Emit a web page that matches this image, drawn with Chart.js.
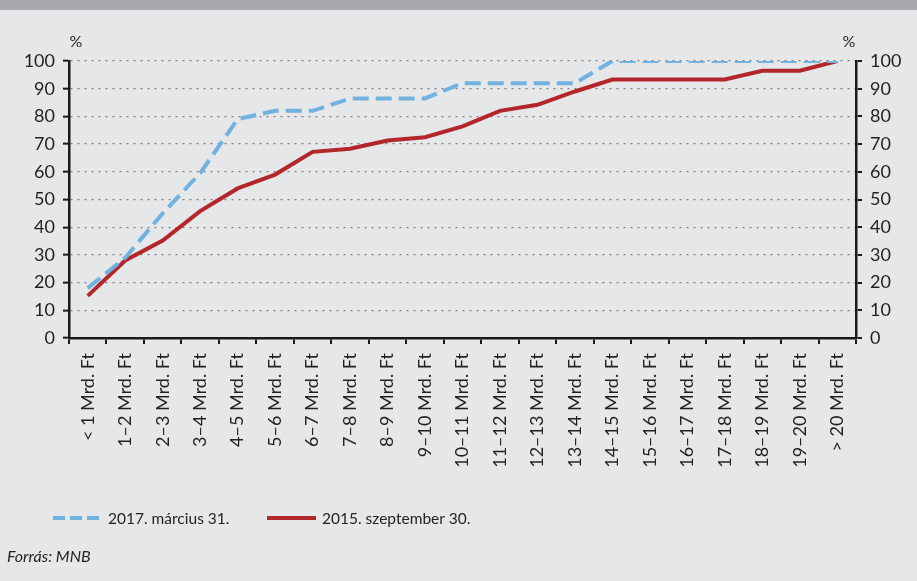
<!DOCTYPE html>
<html>
<head>
<meta charset="utf-8">
<script src="https://cdn.jsdelivr.net/npm/chart.js@4.4.1/dist/chart.umd.min.js"></script>
<style>
  html, body { margin: 0; padding: 0; background: #e6e7e8; }
  #wrap { width: 917px; height: 581px; }
</style>
</head>
<body>
<div id="wrap"><canvas id="chart" width="917" height="581"></canvas></div>
<script>
const categories = [
  '< 1 Mrd. Ft', '1–2 Mrd. Ft', '2–3 Mrd. Ft', '3–4 Mrd. Ft', '4–5 Mrd. Ft',
  '5–6 Mrd. Ft', '6–7 Mrd. Ft', '7–8 Mrd. Ft', '8–9 Mrd. Ft', '9–10 Mrd. Ft',
  '10–11 Mrd. Ft', '11–12 Mrd. Ft', '12–13 Mrd. Ft', '13–14 Mrd. Ft', '14–15 Mrd. Ft',
  '15–16 Mrd. Ft', '16–17 Mrd. Ft', '17–18 Mrd. Ft', '18–19 Mrd. Ft', '19–20 Mrd. Ft',
  '> 20 Mrd. Ft'
];
const series2017 = [18, 29, 45, 59.5, 79, 82, 82, 86.5, 86.5, 86.5, 92, 92, 92, 92, 100, 100, 100, 100, 100, 100, 100];
const series2015 = [15.2, 28, 35.2, 45.8, 54, 59, 67.2, 68.3, 71.3, 72.5, 76.4, 82, 84.2, 89, 93.3, 93.3, 93.3, 93.3, 96.5, 96.5, 100];
const seriesNames = ['2017. március 31.', '2015. szeptember 30.'];
const yTicks = [0, 10, 20, 30, 40, 50, 60, 70, 80, 90, 100];

const FONT = 'Lato, "Open Sans", sans-serif';
const TXT = '#231f20';
const BLUE = '#72b2e0';
const RED = '#b3262a';

// háttér, felső sáv, % jelek, jelmagyarázat, forrás
const extras = {
  id: 'extras',
  beforeDraw(chart) {
    const ctx = chart.ctx;
    ctx.save();
    ctx.fillStyle = '#e6e7e8';
    ctx.fillRect(0, 0, chart.width, chart.height);
    ctx.fillStyle = '#a7a8ab';
    ctx.fillRect(0, 0, chart.width, 10);
    ctx.restore();
  },
  afterDraw(chart) {
    const ctx = chart.ctx;
    const area = chart.chartArea;
    ctx.save();
    ctx.fillStyle = TXT;
    ctx.font = '16px ' + FONT;
    ctx.textBaseline = 'middle';
    ctx.textAlign = 'center';
    ctx.fillText('%', area.left + 7, 42);
    ctx.fillText('%', area.right - 7, 42);

    // legend
    ctx.textAlign = 'left';
    ctx.lineWidth = 4;
    ctx.strokeStyle = BLUE;
    ctx.setLineDash([12, 5]);
    ctx.beginPath();
    ctx.moveTo(53, 518);
    ctx.lineTo(103, 518);
    ctx.stroke();
    ctx.setLineDash([]);
    ctx.strokeStyle = RED;
    ctx.beginPath();
    ctx.moveTo(267, 518);
    ctx.lineTo(316, 518);
    ctx.stroke();
    ctx.font = '15.5px ' + FONT;
    ctx.fillText(seriesNames[0], 108, 519);
    ctx.fillText(seriesNames[1], 322, 519);

    ctx.font = 'italic 16px ' + FONT;
    ctx.fillText('Forrás: MNB', 7, 557);
    ctx.restore();
  }
};

const yCommon = {
  min: 0,
  max: 100,
  afterBuildTicks: (s) => { s.ticks = yTicks.map(v => ({ value: v })); },
  ticks: { color: TXT, font: { family: FONT, size: 18 }, padding: 8 }
};

new Chart(document.getElementById('chart'), {
  type: 'line',
  data: {
    labels: categories,
    datasets: [
      {
        label: seriesNames[0],
        data: series2017,
        borderColor: BLUE,
        borderWidth: 4,
        borderDash: [16, 7],
        pointRadius: 0,
        tension: 0,
        fill: false
      },
      {
        label: seriesNames[1],
        data: series2015,
        borderColor: RED,
        borderWidth: 4,
        pointRadius: 0,
        tension: 0,
        fill: false
      }
    ]
  },
  plugins: [extras],
  options: {
    responsive: false,
    animation: false,
    layout: { padding: { top: 61, left: 0, right: 0, bottom: 0 } },
    plugins: { legend: { display: false }, tooltip: { enabled: false } },
    scales: {
      x: {
        offset: true,
        afterFit: (s) => { s.height = 243; },
        border: { display: true, color: '#1a1a1a', width: 2.5 },
        grid: {
          offset: true,
          drawOnChartArea: false,
          color: '#1a1a1a',
          tickLength: 6,
          lineWidth: 2
        },
        ticks: {
          color: TXT,
          font: { family: FONT, size: 18 },
          minRotation: 90,
          maxRotation: 90,
          autoSkip: false,
          padding: 9
        }
      },
      y: Object.assign({}, yCommon, {
        position: 'left',
        afterFit: (s) => { s.width = 69; },
        border: { display: true, color: '#1a1a1a', width: 2.5, dash: [2, 5] },
        grid: {
          color: '#7f7f7f',
          lineWidth: 1.3,
          tickColor: '#1a1a1a',
          tickBorderDash: [],
          tickWidth: 2,
          tickLength: 6
        }
      }),
      y1: Object.assign({}, yCommon, {
        position: 'right',
        afterFit: (s) => { s.width = 61; },
        border: { display: true, color: '#1a1a1a', width: 2.5 },
        grid: {
          drawOnChartArea: false,
          color: '#1a1a1a',
          lineWidth: 2,
          tickLength: 6
        }
      })
    }
  }
});
</script>
</body>
</html>
